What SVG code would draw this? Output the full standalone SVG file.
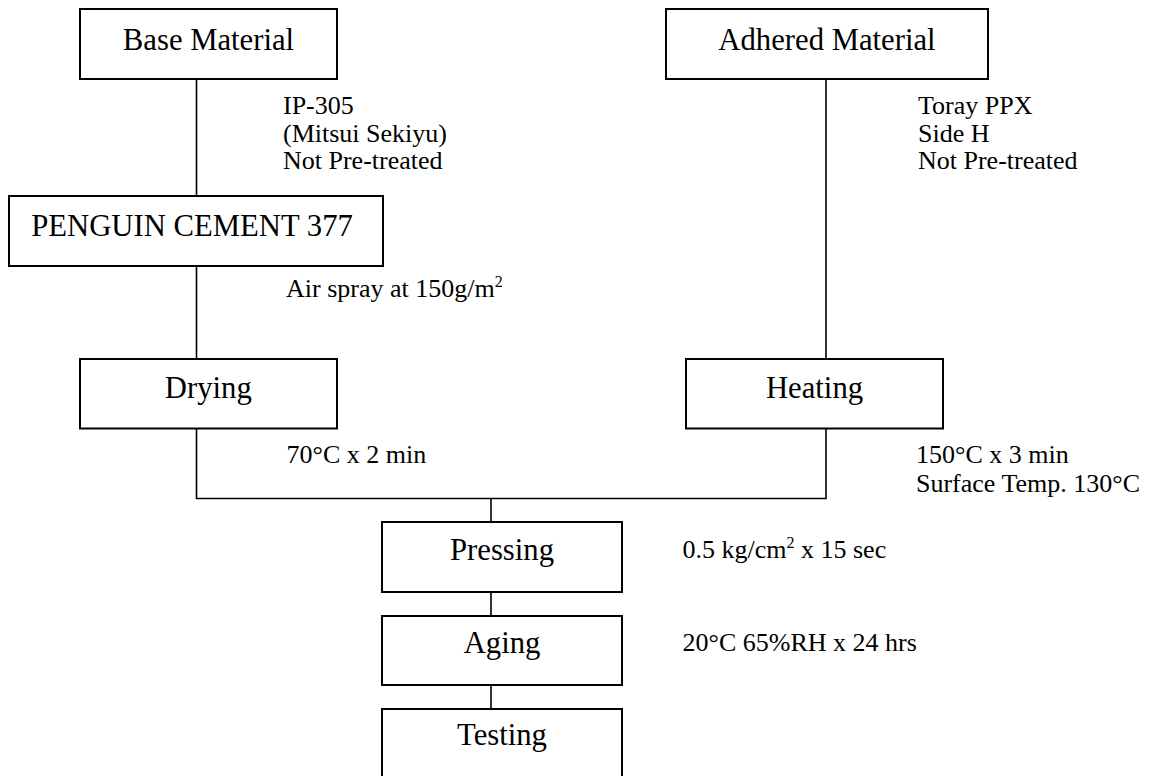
<svg xmlns="http://www.w3.org/2000/svg" width="1152" height="776" viewBox="0 0 1152 776">
<style>
.box{fill:#fff;stroke:#000;stroke-width:2}
.bt{font-family:"Liberation Serif","Times New Roman",serif;font-size:30.7px;fill:#000;text-anchor:middle}
.an{font-family:"Liberation Serif","Times New Roman",serif;font-size:26px;fill:#000}
.sup{font-size:16px}
.ln{stroke:#000;stroke-width:1.6;fill:none}
</style>
<rect width="1152" height="776" fill="#fff"/>
<g id="connectors">
<path class="ln" d="M196.5 79V196M196.5 266V359M196.5 428.5V498.5H826V428.5M826 79V359M491 498.5V522M491 592V616M491 685V709"/>
</g>
<g id="base"><rect class="box" x="80" y="9" width="257" height="70"/><text class="bt" x="208.5" y="50">Base Material</text></g>
<g id="adhered"><rect class="box" x="666" y="9" width="322" height="70"/><text class="bt" x="827" y="50">Adhered Material</text></g>
<g id="penguin"><rect class="box" x="9" y="196" width="374" height="70"/><text class="bt" x="192" y="236">PENGUIN CEMENT 377</text></g>
<g id="drying"><rect class="box" x="80" y="359" width="257" height="69.5"/><text class="bt" x="208.3" y="398">Drying</text></g>
<g id="heating"><rect class="box" x="686" y="359" width="257" height="69.5"/><text class="bt" x="814.5" y="398">Heating</text></g>
<g id="pressing"><rect class="box" x="382" y="522" width="240" height="70"/><text class="bt" x="502" y="560">Pressing</text></g>
<g id="aging"><rect class="box" x="382" y="616" width="240" height="69"/><text class="bt" x="502" y="653">Aging</text></g>
<g id="testing"><rect class="box" x="382" y="709" width="240" height="72"/><text class="bt" x="502" y="745">Testing</text></g>
<g id="notes">
<text class="an" x="283" y="114">IP-305</text>
<text class="an" x="283" y="141.5">(Mitsui Sekiyu)</text>
<text class="an" x="283" y="169">Not Pre-treated</text>
<text class="an" x="918" y="114">Toray PPX</text>
<text class="an" x="918" y="141.5">Side H</text>
<text class="an" x="918" y="169">Not Pre-treated</text>
<text class="an" x="286" y="297">Air spray at 150g/m<tspan class="sup" dy="-10">2</tspan></text>
<text class="an" x="286.5" y="463">70°C x 2 min</text>
<text class="an" x="916" y="463">150°C x 3 min</text>
<text class="an" x="916" y="492">Surface Temp. 130°C</text>
<text class="an" x="682.5" y="558">0.5 kg/cm<tspan class="sup" dy="-10">2</tspan><tspan dy="10"> x 15 sec</tspan></text>
<text class="an" x="682.5" y="651">20°C 65%RH x 24 hrs</text>
</g>
</svg>
